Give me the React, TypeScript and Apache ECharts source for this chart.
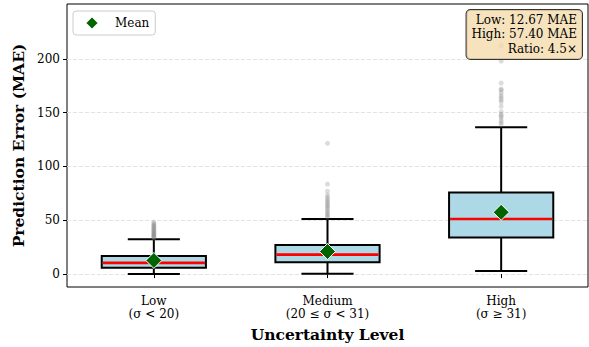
import React, { useEffect, useRef } from "react";
import * as echarts from "echarts";

const categories = ["Low\n(σ < 20)", "Medium\n(20 ≤ σ < 31)", "High\n(σ ≥ 31)"];
// [whiskerLow, q1, median, q3, whiskerHigh]
const boxStats = [
  [0, 5.8, 10.5, 16.7, 32.4],
  [0.3, 11.1, 18.1, 27.1, 51.2],
  [2.8, 33.9, 51.2, 75.9, 136.5],
];
const means = [12.67, 21.0, 57.4];
const lowOutliers = [33.5, 34.2, 35, 35.8, 36.5, 37.3, 38, 38.9, 39.7, 40.5, 41.4, 42.3, 43.2, 44.1, 45, 46, 47, 48.3];
const mediumOutliers = [53, 54.3, 55.5, 57.4, 58.5, 60.5, 62, 63.5, 65, 66.6, 68, 69.7, 71.5, 73.4, 77, 83.6, 121.5];
const highOutliers = [139, 141, 143, 145.5, 147, 148.5, 151, 156, 160, 162, 164, 166, 168.5, 171, 172, 177.5, 198, 211.5, 213];
const yTicks = [0, 50, 100, 150, 200];
const annotation = ["Low: 12.67 MAE", "High: 57.40 MAE", "Ratio: 4.5×"];

const FONT = "DejaVu Serif";

export default function App() {
  const ref = useRef<HTMLDivElement>(null);
  useEffect(() => {
    if (!ref.current) return;
    const chart = echarts.init(ref.current, null, { renderer: "svg" });
    const outlierData: number[][] = [];
    [lowOutliers, mediumOutliers, highOutliers].forEach((arr, i) =>
      arr.forEach((v) => outlierData.push([i, v]))
    );
    chart.setOption({
      animation: false,
      textStyle: { fontFamily: FONT },
      grid: {
        left: 67,
        right: 1,
        top: 4,
        bottom: 59,
        show: true,
        borderColor: "#000",
        borderWidth: 1,
        backgroundColor: "transparent",
      },
      legend: {
        data: ["Mean"],
        left: 73,
        top: 11,
        icon: "diamond",
        itemWidth: 14,
        itemHeight: 14,
        padding: [4, 6, 4, 11],
        backgroundColor: "#fff",
        borderColor: "#cccccc",
        borderWidth: 1,
        borderRadius: 3,
        textStyle: { fontFamily: FONT, fontSize: 12, color: "#000", padding: [0, 0, 0, 11] },
      },
      xAxis: {
        type: "category",
        data: categories,
        name: "Uncertainty Level",
        nameLocation: "middle",
        nameGap: 39,
        nameTextStyle: { fontFamily: FONT, fontSize: 15.5, fontWeight: "bold", color: "#000" },
        axisLine: { show: false },
        axisTick: { show: true, alignWithLabel: true, length: 4, lineStyle: { color: "#000", width: 1 } },
        axisLabel: { margin: 7, fontFamily: FONT, fontSize: 12, color: "#000", lineHeight: 13 },
        splitLine: { show: false },
      },
      yAxis: {
        type: "value",
        min: -12,
        max: 251,
        name: "Prediction Error (MAE)",
        nameLocation: "middle",
        nameGap: 41,
        nameTextStyle: { fontFamily: FONT, fontSize: 15.5, fontWeight: "bold", color: "#000" },
        axisLine: { show: false },
        axisTick: { show: true, length: 4, customValues: yTicks, lineStyle: { color: "#000", width: 1 } },
        axisLabel: { margin: 7, fontFamily: FONT, fontSize: 12, color: "#000", customValues: yTicks },
        splitLine: { show: true, lineStyle: { color: "#e3e3e3", type: [4, 2], width: 1 } },
      },
      graphic: [
        {
          type: "text",
          x: 582,
          y: 10,
          z: 100,
          style: {
            text: annotation.join("\n"),
            font: `12px "${FONT}"`,
            fill: "#000",
            align: "right",
            verticalAlign: "top",
            lineHeight: 14.3,
            backgroundColor: "rgba(245,222,179,0.85)",
            borderColor: "#333",
            borderWidth: 1,
            borderRadius: 4,
            padding: [3, 5, 3, 5],
          },
        },
      ],
      series: [
        {
          type: "custom",
          name: "box",
          z: 2,
          data: boxStats.map((s, i) => [i, ...s]),
          encode: { x: 0, y: [1, 2, 3, 4, 5] },
          renderItem: (params: any, api: any) => {
            const idx = api.value(0);
            const band = api.size([1, 0])[0];
            const bw = band * 0.6;
            const cw = band * 0.3;
            const lo = api.coord([idx, api.value(1)]);
            const q1 = api.coord([idx, api.value(2)]);
            const med = api.coord([idx, api.value(3)]);
            const q3 = api.coord([idx, api.value(4)]);
            const hi = api.coord([idx, api.value(5)]);
            const cx = lo[0];
            const black = { stroke: "#000", lineWidth: 2 };
            return {
              type: "group",
              children: [
                { type: "line", shape: { x1: cx, y1: q1[1], x2: cx, y2: lo[1] }, style: black },
                { type: "line", shape: { x1: cx, y1: q3[1], x2: cx, y2: hi[1] }, style: black },
                { type: "line", shape: { x1: cx - cw / 2, y1: lo[1], x2: cx + cw / 2, y2: lo[1] }, style: black },
                { type: "line", shape: { x1: cx - cw / 2, y1: hi[1], x2: cx + cw / 2, y2: hi[1] }, style: black },
                {
                  type: "rect",
                  shape: { x: cx - bw / 2, y: q3[1], width: bw, height: q1[1] - q3[1] },
                  style: { fill: "#add8e6", stroke: "#000", lineWidth: 2 },
                },
                {
                  type: "line",
                  shape: { x1: cx - bw / 2 + 1, y1: med[1], x2: cx + bw / 2 - 1, y2: med[1] },
                  style: { stroke: "#ff0000", lineWidth: 2.7 },
                },
              ],
            };
          },
        },
        {
          type: "scatter",
          name: "Outliers",
          z: 3,
          data: outlierData,
          symbol: "circle",
          symbolSize: 5,
          itemStyle: { color: "rgba(128,128,128,0.35)" },
        },
        {
          type: "scatter",
          name: "Mean",
          z: 5,
          data: means.map((m, i) => [i, m]),
          symbol: "diamond",
          symbolSize: 16,
          itemStyle: { color: "#006400", borderColor: "#fff", borderWidth: 1, opacity: 1 },
        },
      ],
    });
    return () => chart.dispose();
  }, []);
  return (
    <div
      ref={ref}
      style={{ position: "absolute", left: 0, top: 0, width: 589, height: 347 }}
    />
  );
}
